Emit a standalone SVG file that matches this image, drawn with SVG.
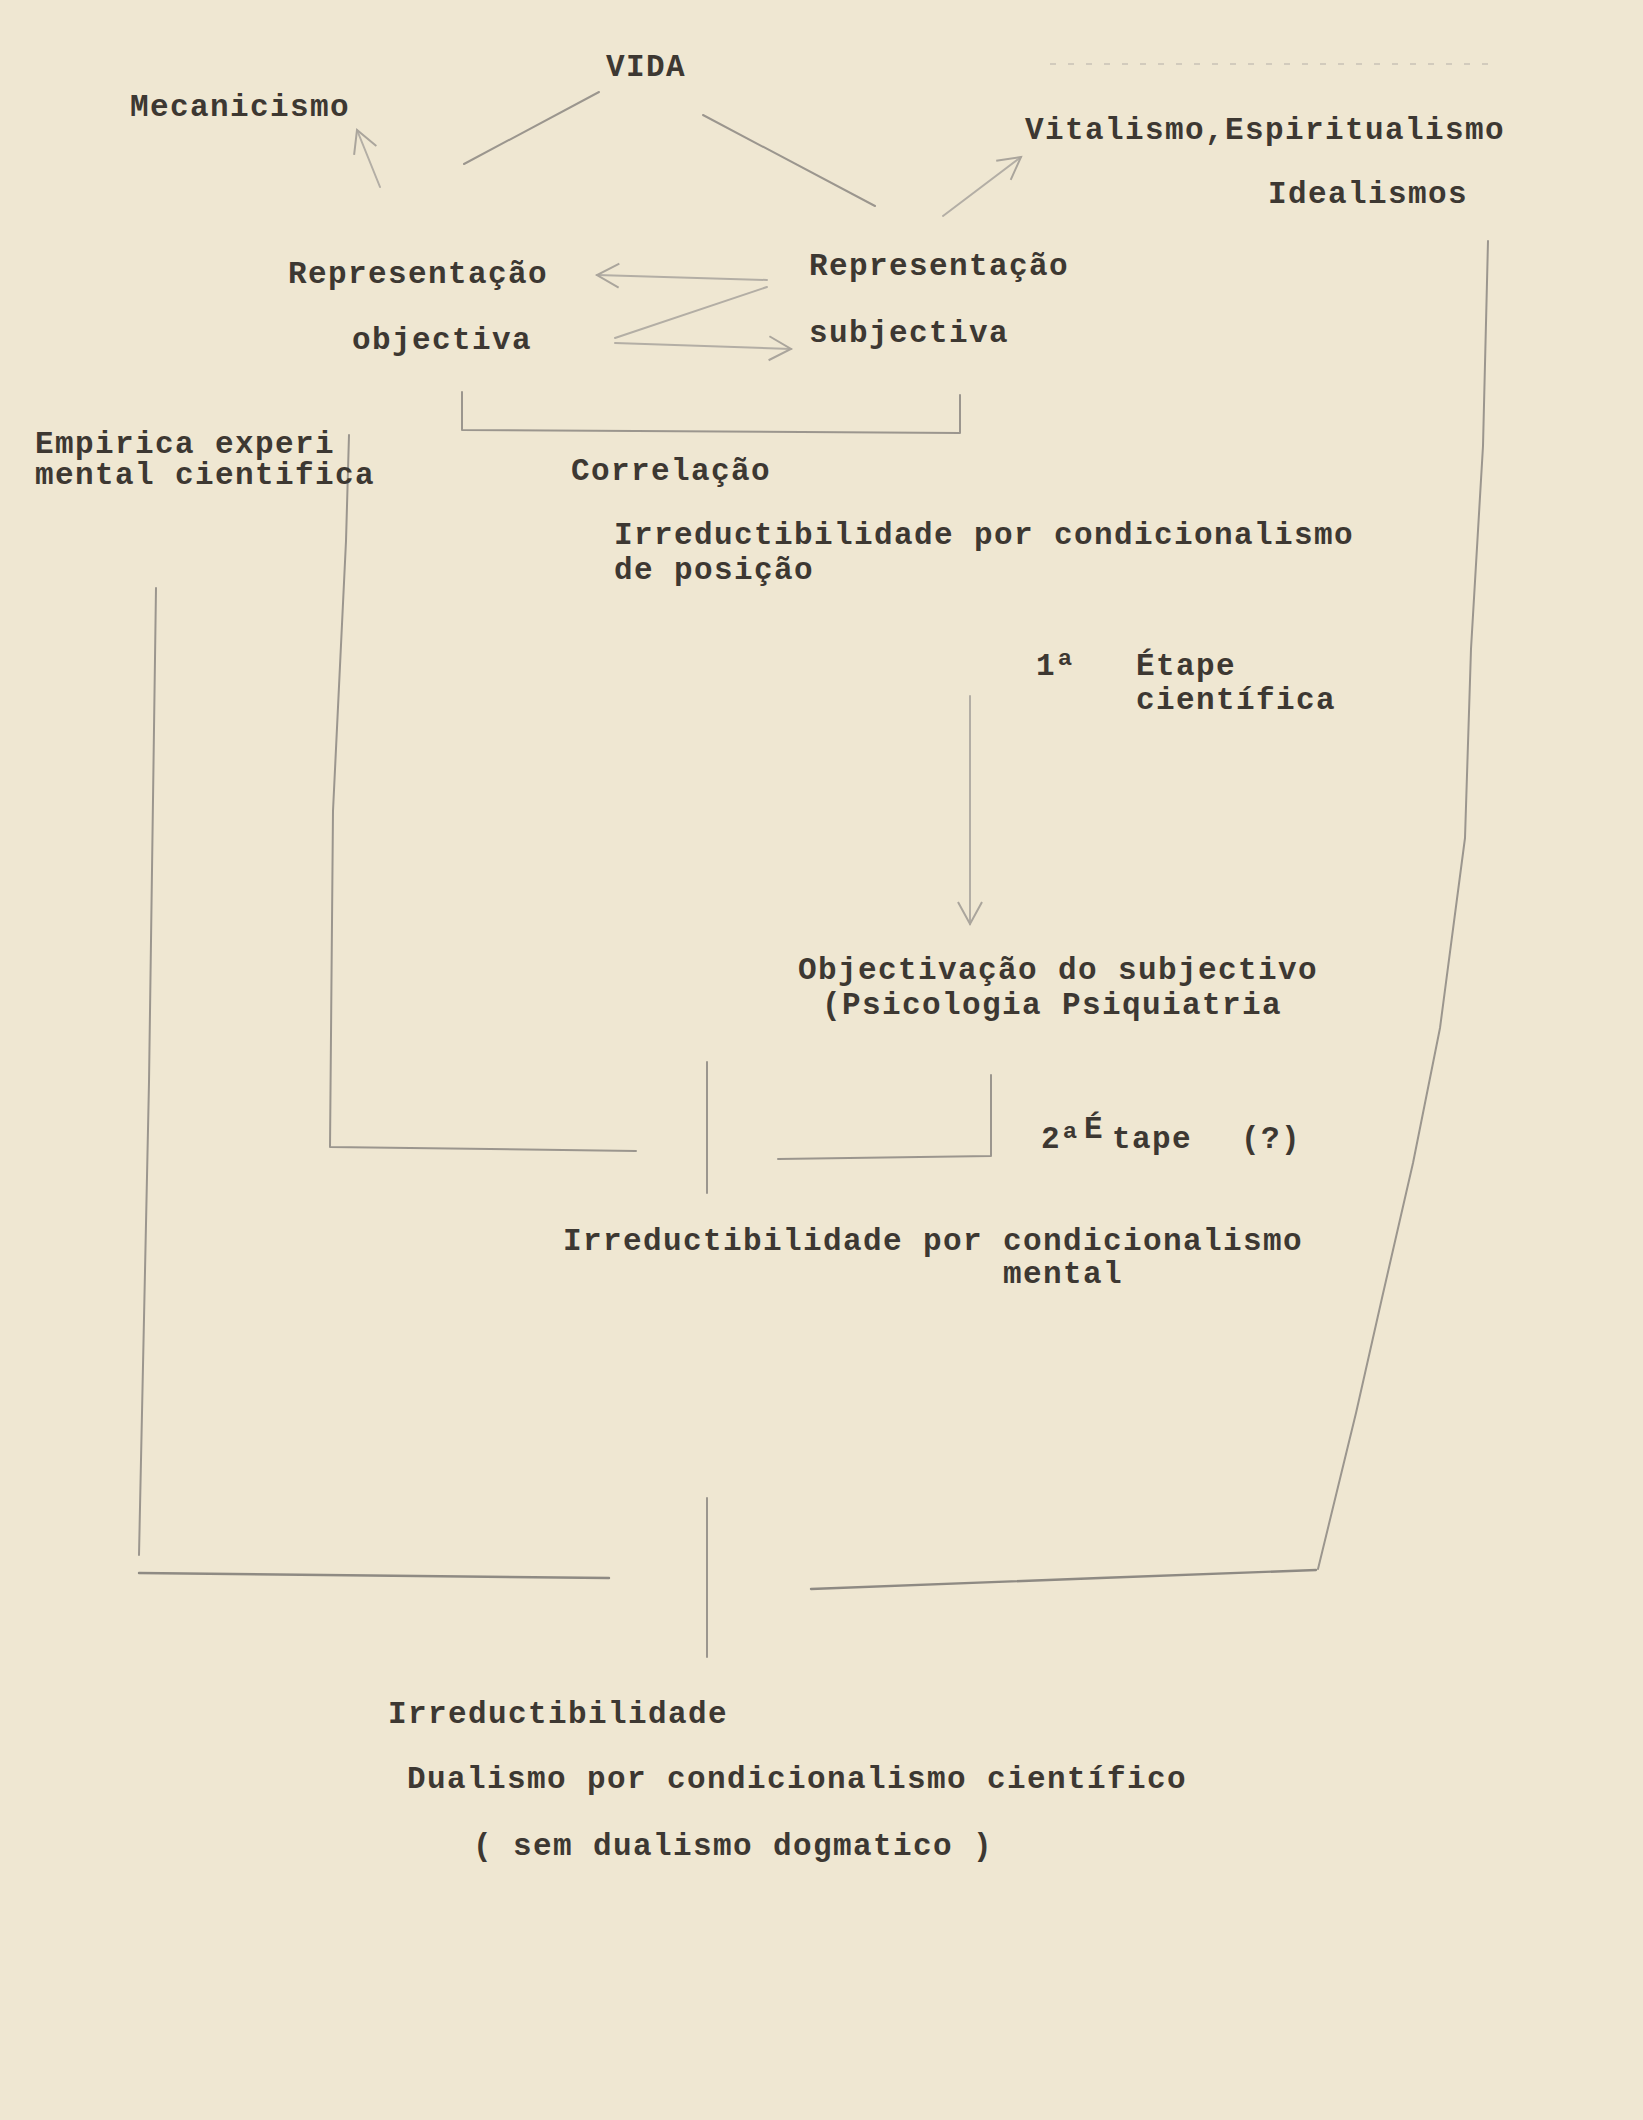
<svg xmlns="http://www.w3.org/2000/svg" width="1643" height="2120" viewBox="0 0 1643 2120">
<style>
.t{font-family:"Liberation Mono","DejaVu Sans Mono",monospace;font-weight:bold;font-size:31px;letter-spacing:1.4px;fill:#3d3832}
.p{fill:none;stroke:#9b968e;stroke-width:2;stroke-linecap:round;stroke-linejoin:round}
.pl{fill:none;stroke:#b3aea5;stroke-width:2;stroke-linecap:round;stroke-linejoin:round}
.pd{fill:none;stroke:#8e8a83;stroke-width:2.4;stroke-linecap:round;stroke-linejoin:round}
</style>
<defs>
<marker id="ah2" markerWidth="28" markerHeight="28" refX="24" refY="14" orient="auto" markerUnits="userSpaceOnUse">
<path d="M2,2 L24,14 L2,26" fill="none" stroke="#aaa59c" stroke-width="2"/>
</marker>
</defs>
<rect width="1643" height="2120" fill="#efe7d2"/>
<g id="connectors">
<line class="p" x1="599" y1="92" x2="464" y2="164"/>
<line class="p" x1="703" y1="115" x2="875" y2="206"/>
<line class="pl" x1="380" y1="187" x2="357" y2="130" marker-end="url(#ah2)"/>
<line class="pl" x1="943" y1="216" x2="1021" y2="157" marker-end="url(#ah2)"/>
<line class="pl" x1="767" y1="280" x2="597" y2="275" marker-end="url(#ah2)"/>
<line class="pl" x1="767" y1="287" x2="615" y2="338"/>
<line class="pl" x1="615" y1="343" x2="791" y2="349" marker-end="url(#ah2)"/>
<polyline class="p" points="462,392 462,430 960,433 960,395"/>
<polyline class="p" points="349,435 346,541 333,811 330,1147 636,1151"/>
<polyline class="p" points="156,588 149,1082 139,1555"/>
<line class="pd" x1="139" y1="1573" x2="609" y2="1578"/>
<line class="p" x1="707" y1="1062" x2="707" y2="1193"/>
<polyline class="p" points="778,1159 991,1156 991,1075"/>
<line class="pl" x1="970" y1="696" x2="970" y2="924" marker-end="url(#ah2)"/>
<polyline class="p" points="1488,241 1483,446 1471,649 1465,838 1440,1028 1413,1163 1382,1298 1356,1413 1318,1569"/>
<polyline class="pd" points="1316,1570 1100,1578 811,1589"/>
<line class="p" x1="707" y1="1498" x2="707" y2="1657"/>
<line x1="1050" y1="64" x2="1495" y2="64" stroke="#d2cbbd" stroke-width="2" stroke-dasharray="6 12"/>
</g>
<g id="vida"><text class="t" x="606" y="76">VIDA</text></g>
<g id="mecanicismo"><text class="t" x="130" y="116">Mecanicismo</text></g>
<g id="vitalismo"><text class="t" x="1025" y="139">Vitalismo,Espiritualismo</text><text class="t" x="1268" y="203">Idealismos</text></g>
<g id="rep-objectiva"><text class="t" x="288" y="283">Representação</text><text class="t" x="352" y="349">objectiva</text></g>
<g id="rep-subjectiva"><text class="t" x="809" y="275">Representação</text><text class="t" x="809" y="342">subjectiva</text></g>
<g id="empirica"><text class="t" x="35" y="453">Empirica experi</text><text class="t" x="35" y="484">mental cientifica</text></g>
<g id="correlacao"><text class="t" x="571" y="480">Correlação</text></g>
<g id="irred-posicao"><text class="t" x="614" y="544">Irreductibilidade por condicionalismo</text><text class="t" x="614" y="579">de posição</text></g>
<g id="etape1"><text class="t" x="1036" y="675">1ª</text><text class="t" x="1136" y="675">Étape</text><text class="t" x="1136" y="709">científica</text></g>
<g id="objectivacao"><text class="t" x="798" y="979">Objectivação do subjectivo</text><text class="t" x="822" y="1014">(Psicologia Psiquiatria</text></g>
<g id="etape2"><text class="t" x="1041" y="1148">2ª</text><text class="t" x="1084" y="1138">É</text><text class="t" x="1112" y="1148">tape</text><text class="t" x="1241" y="1148">(?)</text></g>
<g id="irred-mental"><text class="t" x="563" y="1250">Irreductibilidade por condicionalismo</text><text class="t" x="1003" y="1283">mental</text></g>
<g id="irred-final"><text class="t" x="388" y="1723">Irreductibilidade</text><text class="t" x="407" y="1788">Dualismo por condicionalismo científico</text><text class="t" x="473" y="1855">( sem dualismo dogmatico )</text></g>
</svg>
